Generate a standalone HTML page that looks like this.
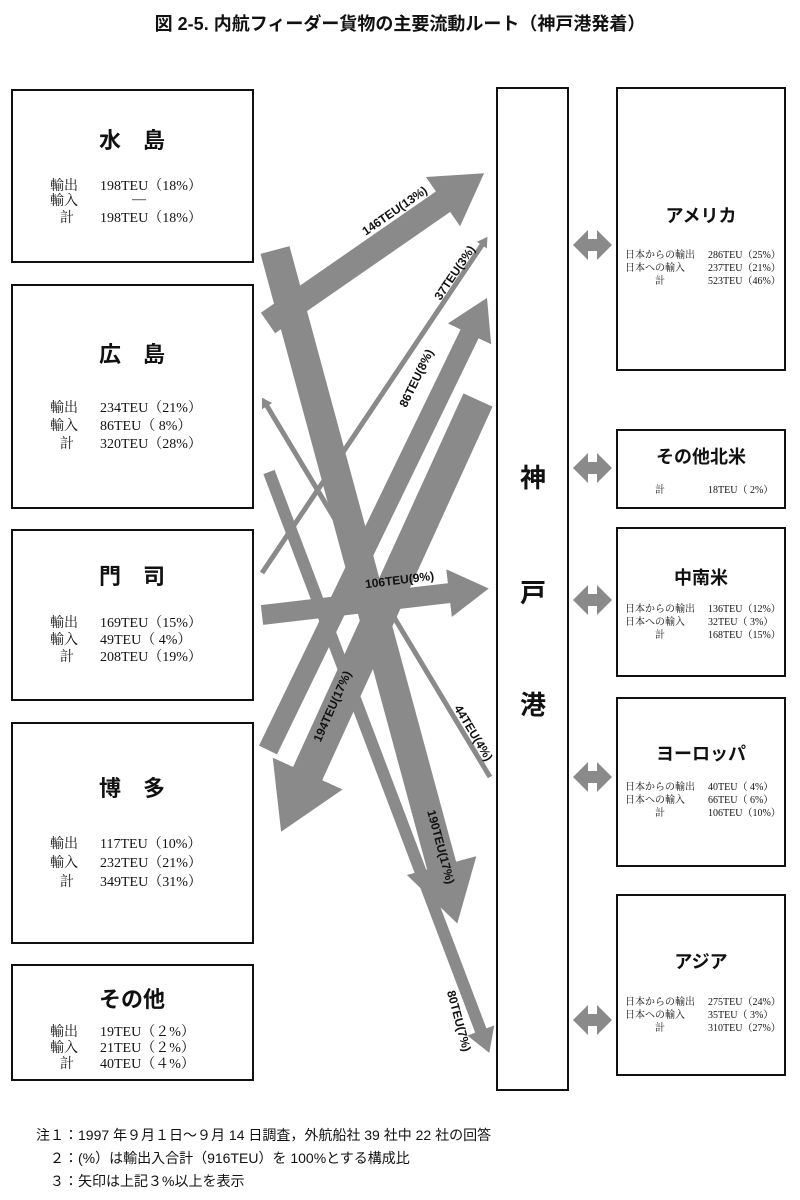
<!DOCTYPE html>
<html><head><meta charset="utf-8"><style>
body{margin:0;background:#fff;}
svg{display:block;}
text{font-family:"Liberation Serif","Noto Serif CJK SC","Noto Sans CJK JP",serif;fill:#111;}
.g, .g text{font-family:"Liberation Sans","Noto Sans CJK JP",sans-serif;}
.b, .b text{font-weight:bold;}
</style></head><body>
<svg width="800" height="1200" viewBox="0 0 800 1200" xmlns="http://www.w3.org/2000/svg">
<defs>
<marker id="h" viewBox="0 0 2 2.4" markerWidth="2" markerHeight="2.4" refX="0.05" refY="1.2" orient="auto" markerUnits="strokeWidth">
<path d="M0,0 L2,1.2 L0,2.4 z" fill="#8a8a8a"/></marker>
</defs>
<text x="400" y="30" text-anchor="middle" class="g b" font-size="18">図 2-5. 内航フィーダー貨物の主要流動ルート（神戸港発着）</text>

<g fill="none" stroke="#111" stroke-width="2">
<rect x="12" y="90" width="241" height="172"/>
<rect x="12" y="285" width="241" height="223"/>
<rect x="12" y="530" width="241" height="170"/>
<rect x="12" y="723" width="241" height="220"/>
<rect x="12" y="965" width="241" height="115"/>
<rect x="497" y="88" width="71" height="1002"/>
<rect x="617" y="88" width="168" height="282"/>
<rect x="617" y="430" width="168" height="78"/>
<rect x="617" y="528" width="168" height="148"/>
<rect x="617" y="698" width="168" height="168"/>
<rect x="617" y="895" width="168" height="180"/>
</g>

<g stroke="#8a8a8a" fill="none">
<line x1="268" y1="323" x2="444" y2="201" stroke-width="25" marker-end="url(#h)"/>
<line x1="275" y1="250" x2="442" y2="867" stroke-width="30" marker-end="url(#h)"/>
<line x1="262" y1="573" x2="482" y2="245" stroke-width="5" marker-end="url(#h)"/>
<line x1="490" y1="777" x2="267" y2="406" stroke-width="5" marker-end="url(#h)"/>
<line x1="268" y1="750" x2="470" y2="333" stroke-width="20" marker-end="url(#h)"/>
<line x1="478" y1="400" x2="307" y2="775" stroke-width="32" marker-end="url(#h)"/>
<line x1="262" y1="615" x2="450" y2="593" stroke-width="20" marker-end="url(#h)"/>
<line x1="269" y1="472" x2="481" y2="1031" stroke-width="12" marker-end="url(#h)"/>
</g>

<g class="g b" font-size="12">
<text transform="translate(397,214) rotate(-34.8)" text-anchor="middle">146TEU(13%)</text>
<text transform="translate(458,275) rotate(-56)" text-anchor="middle">37TEU(3%)</text>
<text transform="translate(420,380) rotate(-64)" text-anchor="middle">86TEU(8%)</text>
<text transform="translate(400,584) rotate(-7)" text-anchor="middle">106TEU(9%)</text>
<text transform="translate(470,735) rotate(59)" text-anchor="middle">44TEU(4%)</text>
<text transform="translate(336,708) rotate(-66)" text-anchor="middle">194TEU(17%)</text>
<text transform="translate(437,848) rotate(75)" text-anchor="middle">190TEU(17%)</text>
<text transform="translate(455,1022) rotate(75)" text-anchor="middle">80TEU(7%)</text>
</g>

<g fill="#8a8a8a">
<path id="da" d="M573,245 L588,230 L588,239 L597,239 L597,230 L612,245 L597,260 L597,251 L588,251 L588,260 z"/>
<use href="#da" y="223"/>
<use href="#da" y="355"/>
<use href="#da" y="532"/>
<use href="#da" y="775"/>
</g>

<g class="g b" font-size="26" text-anchor="middle">
<text x="533" y="487">神</text>
<text x="533" y="602">戸</text>
<text x="533" y="714">港</text>
</g>

<g font-size="14">
<text x="132" y="148" text-anchor="middle" class="g b" font-size="22">水　島</text>
<text x="50" y="190">輸出</text><text x="100" y="190">198TEU（18%）</text>
<text x="50" y="205">輸入</text><text x="132" y="203">—</text>
<text x="60" y="222">計</text><text x="100" y="222">198TEU（18%）</text>

<text x="132" y="362" text-anchor="middle" class="g b" font-size="22">広　島</text>
<text x="50" y="412">輸出</text><text x="100" y="412">234TEU（21%）</text>
<text x="50" y="430">輸入</text><text x="100" y="430">86TEU（ 8%）</text>
<text x="60" y="448">計</text><text x="100" y="448">320TEU（28%）</text>

<text x="132" y="584" text-anchor="middle" class="g b" font-size="22">門　司</text>
<text x="50" y="627">輸出</text><text x="100" y="627">169TEU（15%）</text>
<text x="50" y="644">輸入</text><text x="100" y="644">49TEU（ 4%）</text>
<text x="60" y="661">計</text><text x="100" y="661">208TEU（19%）</text>

<text x="132" y="796" text-anchor="middle" class="g b" font-size="22">博　多</text>
<text x="50" y="848">輸出</text><text x="100" y="848">117TEU（10%）</text>
<text x="50" y="867">輸入</text><text x="100" y="867">232TEU（21%）</text>
<text x="60" y="886">計</text><text x="100" y="886">349TEU（31%）</text>

<text x="132" y="1007" text-anchor="middle" class="g b" font-size="22">その他</text>
<text x="50" y="1036">輸出</text><text x="100" y="1036">19TEU（２%）</text>
<text x="50" y="1052">輸入</text><text x="100" y="1052">21TEU（２%）</text>
<text x="60" y="1068">計</text><text x="100" y="1068">40TEU（４%）</text>
</g>

<g font-size="10">
<text x="701" y="222" text-anchor="middle" class="g b" font-size="18">アメリカ</text>
<text x="625" y="258">日本からの輸出</text><text x="708" y="258">286TEU（25%）</text>
<text x="625" y="271">日本への輸入</text><text x="708" y="271">237TEU（21%）</text>
<text x="655" y="284">計</text><text x="708" y="284">523TEU（46%）</text>

<text x="701" y="463" text-anchor="middle" class="g b" font-size="18">その他北米</text>
<text x="655" y="493">計</text><text x="708" y="493">18TEU（ 2%）</text>

<text x="701" y="584" text-anchor="middle" class="g b" font-size="18">中南米</text>
<text x="625" y="612">日本からの輸出</text><text x="708" y="612">136TEU（12%）</text>
<text x="625" y="625">日本への輸入</text><text x="708" y="625">32TEU（ 3%）</text>
<text x="655" y="638">計</text><text x="708" y="638">168TEU（15%）</text>

<text x="701" y="760" text-anchor="middle" class="g b" font-size="18">ヨーロッパ</text>
<text x="625" y="790">日本からの輸出</text><text x="708" y="790">40TEU（ 4%）</text>
<text x="625" y="803">日本への輸入</text><text x="708" y="803">66TEU（ 6%）</text>
<text x="655" y="816">計</text><text x="708" y="816">106TEU（10%）</text>

<text x="701" y="968" text-anchor="middle" class="g b" font-size="18">アジア</text>
<text x="625" y="1005">日本からの輸出</text><text x="708" y="1005">275TEU（24%）</text>
<text x="625" y="1018">日本への輸入</text><text x="708" y="1018">35TEU（ 3%）</text>
<text x="655" y="1031">計</text><text x="708" y="1031">310TEU（27%）</text>
</g>

<g class="g" font-size="14">
<text x="36" y="1140">注１：1997 年９月１日～９月 14 日調査，外航船社 39 社中 22 社の回答</text>
<text x="50" y="1163">２：(%）は輸出入合計（916TEU）を 100%とする構成比</text>
<text x="50" y="1186">３：矢印は上記３%以上を表示</text>
</g>
</svg>
</body></html>
